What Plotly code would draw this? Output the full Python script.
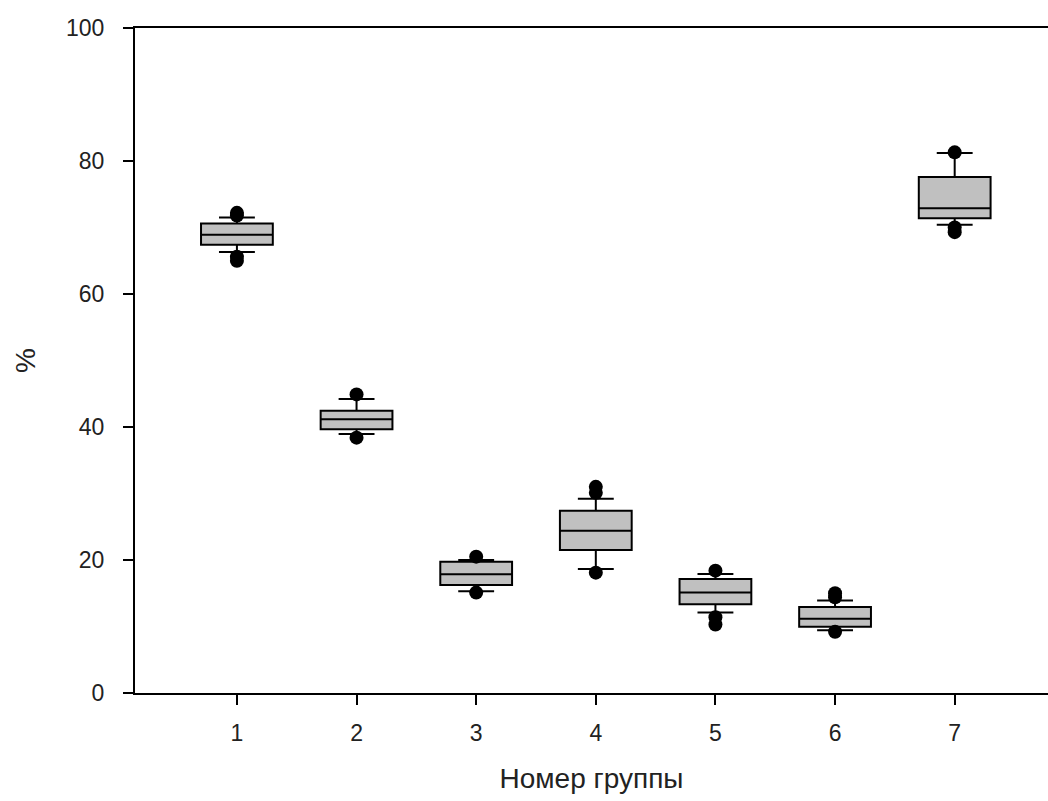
import plotly.graph_objects as go

groups = [1, 2, 3, 4, 5, 6, 7]
q1 = [67.4, 39.65, 16.25, 21.5, 13.35, 9.95, 71.4]
median = [68.9, 41.15, 17.85, 24.4, 15.1, 11.15, 72.9]
q3 = [70.6, 42.45, 19.75, 27.4, 17.15, 12.95, 77.6]
lower_fence = [66.3, 38.95, 15.3, 18.65, 12.1, 9.45, 70.4]
upper_fence = [71.5, 44.2, 20.0, 29.2, 17.9, 13.9, 81.2]

outlier_x = [1, 1, 1, 1, 2, 2, 3, 3, 4, 4, 4, 5, 5, 5, 6, 6, 6, 7, 7, 7]
outlier_y = [72.2, 71.8, 65.6, 65.0, 44.9, 38.4, 20.5, 15.1, 31.0, 30.1, 18.1,
             18.4, 11.4, 10.3, 15.0, 14.4, 9.2, 81.3, 70.0, 69.3]

y_ticks = [0, 20, 40, 60, 80, 100]

FONT = "Liberation Sans, Arial, sans-serif"

fig = go.Figure()
fig.add_trace(go.Box(
    x=groups, q1=q1, median=median, q3=q3,
    lowerfence=lower_fence, upperfence=upper_fence,
    boxpoints=False, width=0.6, whiskerwidth=0.5,
    fillcolor="#c0c0c0", line=dict(color="black", width=2),
    showlegend=False, hoverinfo="skip",
))
fig.add_trace(go.Scatter(
    x=outlier_x, y=outlier_y, mode="markers",
    marker=dict(color="black", size=14, symbol="circle"),
    showlegend=False, hoverinfo="skip",
))

fig.update_layout(
    width=1048, height=801,
    margin=dict(l=135, r=0, t=28, b=108),
    plot_bgcolor="white", paper_bgcolor="white",
    font=dict(family=FONT, size=23, color="#222"),
)
fig.update_xaxes(
    range=[0.148, 7.78], tickmode="array", tickvals=groups,
    ticktext=[str(g) for g in groups],
    showline=True, linecolor="black", linewidth=2, mirror=True,
    ticks="outside", ticklen=10, tickwidth=2, tickcolor="black",
    showgrid=False, zeroline=False, ticklabelstandoff=8,
    tickfont=dict(size=23),
    title=dict(text="Номер группы", standoff=24, font=dict(size=28)),
)
fig.update_yaxes(
    range=[0, 100], tickmode="array", tickvals=y_ticks,
    showline=True, linecolor="black", linewidth=2,
    ticks="outside", ticklen=10, tickwidth=2, tickcolor="black",
    showgrid=False, zeroline=False, ticklabelstandoff=14,
    tickfont=dict(size=23), automargin=False,
    title=dict(text="%", standoff=22, font=dict(size=28)),
)

fig.write_html("out.html")
